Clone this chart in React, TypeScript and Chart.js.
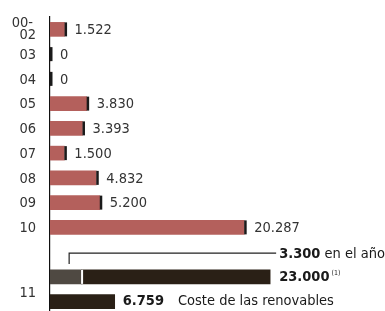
import React, { useEffect, useRef } from "react";
import { Chart, registerables } from "chart.js";

Chart.register(...registerables);

const categories = ["00-02", "03", "04", "05", "06", "07", "08", "09", "10", "conn", "11a", "11b"];
const yearLabels: (string | string[])[] = [["00-", "02"], "03", "04", "05", "06", "07", "08", "09", "10", "", "", ""];
const annualValues = [1522, 0, 0, 3830, 3393, 1500, 4832, 5200, 20287, null, null, null];
const annualText = ["1.522", "0", "0", "3.830", "3.393", "1.500", "4.832", "5.200", "20.287"];
const inYearValues = [null, null, null, null, null, null, null, null, null, null, 3300, null];
const restValues = [null, null, null, null, null, null, null, null, null, null, 19700, 6759];
const label11 = "11";
const inYearLabel = ["3.300", " en el año"];
const totalLabel = ["23.000", " (1)"];
const renewLabel = ["6.759", "Coste de las renovables"];

const ROSE = "#b4605c";
const GRAY = "#4f4942";
const DARK = "#2a2016";
const FONT = "'DejaVu Sans Condensed', 'DejaVu Sans', sans-serif";
const VSIZE = 14.5;

export default function App() {
  const ref = useRef<HTMLCanvasElement | null>(null);
  useEffect(() => {
    document.body.style.margin = "0";
    document.body.style.overflow = "hidden";
    const overlay = {
      id: "overlay",
      afterDatasetsDraw(chart: any) {
        const ctx = chart.ctx;
        const m0 = chart.getDatasetMeta(0);
        const m1 = chart.getDatasetMeta(1);
        const m2 = chart.getDatasetMeta(2);
        const xs = chart.scales.x;
        const ys = chart.scales.y;
        const labelX = chart.chartArea.left - 14;
        ctx.save();
        ctx.textBaseline = "middle";
        // year labels
        ctx.fillStyle = "#333";
        ctx.font = `${VSIZE}px ${FONT}`;
        ctx.textAlign = "right";
        yearLabels.forEach((lab, i) => {
          const y = ys.getPixelForValue(i);
          if (Array.isArray(lab)) {
            ctx.fillText(lab[0], labelX - 3, y - 6);
            ctx.fillText(lab[1], labelX, y + 6);
          } else if (lab) {
            ctx.fillText(lab, labelX, y + 1);
          }
        });
        ctx.textAlign = "left";
        m0.data.forEach((el: any, i: number) => {
          if (annualValues[i] === null) return;
          const half = 7;
          ctx.fillStyle = "#1a1a1a";
          ctx.fillRect(el.x, el.y - half, 2.5, half * 2);
          ctx.fillStyle = "#333";
          ctx.fillText(annualText[i], el.x + 10, el.y + 1);
        });
        const gEl = m1.data[10];
        const dEl = m2.data[10];
        const rEl = m2.data[11];
        ctx.fillStyle = "#ffffff";
        ctx.fillRect(gEl.x - 0.5, gEl.y - 7, 2, 14);
        const connY = ys.getPixelForValue(9) + 1;
        const connX = xs.getPixelForValue(2000);
        ctx.strokeStyle = "#222";
        ctx.lineWidth = 1.2;
        ctx.beginPath();
        ctx.moveTo(connX, gEl.y - 13);
        ctx.lineTo(connX, connY);
        ctx.lineTo(dEl.x + 6, connY);
        ctx.stroke();
        const tx = dEl.x + 9;
        ctx.fillStyle = "#1a1a1a";
        ctx.font = `bold ${VSIZE}px ${FONT}`;
        ctx.fillText(inYearLabel[0], tx, connY + 1);
        let w = ctx.measureText(inYearLabel[0]).width;
        ctx.font = `${VSIZE}px ${FONT}`;
        ctx.fillText(inYearLabel[1], tx + w, connY + 1);
        ctx.font = `bold ${VSIZE}px ${FONT}`;
        ctx.fillText(totalLabel[0], tx, dEl.y);
        w = ctx.measureText(totalLabel[0]).width;
        ctx.font = `7px ${FONT}`;
        ctx.fillText(totalLabel[1], tx + w, dEl.y - 4);
        ctx.font = `bold ${VSIZE}px ${FONT}`;
        ctx.fillText(renewLabel[0], rEl.x + 8, rEl.y);
        w = ctx.measureText(renewLabel[0]).width;
        ctx.font = `${VSIZE}px ${FONT}`;
        ctx.fillText(renewLabel[1], rEl.x + 8 + w + 14, rEl.y);
        ctx.fillStyle = "#333";
        ctx.textAlign = "right";
        ctx.fillText(label11, labelX, (dEl.y + rEl.y) / 2 + 4);
        ctx.restore();
      },
    };
    const chart = new Chart(ref.current as HTMLCanvasElement, {
      type: "bar",
      data: {
        labels: categories,
        datasets: [
          { data: annualValues as any, backgroundColor: ROSE, barThickness: 14 },
          { data: inYearValues as any, backgroundColor: GRAY, barThickness: 14 },
          { data: restValues as any, backgroundColor: DARK, barThickness: 14 },
        ],
      },
      options: {
        indexAxis: "y",
        animation: false,
        responsive: false,
        layout: { padding: { top: 17, right: 0, bottom: 0, left: 0 } },
        plugins: { legend: { display: false }, tooltip: { enabled: false } },
        scales: {
          x: { display: false, stacked: true, min: 0, max: 35000 },
          y: {
            stacked: true,
            grid: { display: false },
            border: { display: true, color: "#111", width: 1.2 },
            afterFit: (s: any) => { s.width = 50; },
            ticks: { display: false },
          },
        },
      },
      plugins: [overlay],
    });
    return () => chart.destroy();
  }, []);
  return <canvas ref={ref} width={385} height={314} style={{ display: "block" }} />;
}
